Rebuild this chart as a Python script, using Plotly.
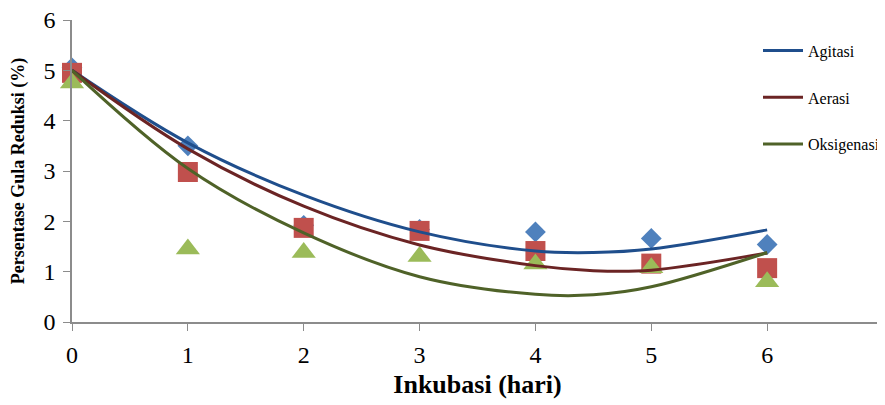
import plotly.graph_objects as go

hari = [0, 1, 2, 3, 4, 5, 6]

# observed values
agitasi = [5.05, 3.50, 1.92, 1.84, 1.79, 1.66, 1.54]
aerasi = [4.95, 2.98, 1.87, 1.81, 1.41, 1.16, 1.07]
oksigenasi = [4.75, 1.45, 1.38, 1.30, 1.15, 1.08, 0.80]

# trendline values
trend_x = [0, 1, 2, 3, 4, 4.5, 5, 6]
trend_agitasi = [5.0, 3.56, 2.52, 1.79, 1.41, 1.38, 1.45, 1.83]
trend_aerasi = [5.0, 3.44, 2.30, 1.53, 1.12, 1.02, 1.03, 1.37]
trend_oksigenasi = [5.0, 3.05, 1.77, 0.90, 0.55, 0.54, 0.70, 1.38]

names = ["Agitasi", "Aerasi", "Oksigenasi"]
marker_colors = ["#4F81BD", "#C0504D", "#9BBB59"]
line_colors = ["#1F4E8C", "#6B2424", "#4F6228"]
symbols = ["diamond", "square", "triangle-up"]
sizes = [16, 20, 21]

fig = go.Figure()
for ys, c, s, sz in zip([agitasi, aerasi, oksigenasi], marker_colors, symbols, sizes):
    fig.add_trace(go.Scatter(x=hari, y=ys, mode="markers",
                             marker=dict(symbol=s, size=sz, color=c, line=dict(width=0)),
                             showlegend=False, hoverinfo="skip", cliponaxis=False))
for ys, n, c in zip([trend_agitasi, trend_aerasi, trend_oksigenasi], names, line_colors):
    fig.add_trace(go.Scatter(x=trend_x, y=ys, mode="lines", name=n,
                             line=dict(color=c, width=3, shape="spline", smoothing=1.0),
                             legendgroup=n))

axis_common = dict(showgrid=False, zeroline=False, showline=True, linecolor="#8C8C8C",
                   linewidth=1.5, ticks="outside", tickcolor="#8C8C8C", ticklen=7,
                   automargin=False, ticklabeloverflow="allow",
                   tickfont=dict(family="Liberation Serif", size=24, color="black"))

# page body has an 8px default margin: shift everything up/left by 8px
fig.update_layout(
    width=877, height=397,
    margin=dict(l=64, r=1, t=12, b=83),
    paper_bgcolor="white", plot_bgcolor="white",
    font=dict(family="Liberation Serif", color="black"),
    xaxis=dict(range=[0, 7], dtick=1, ticklabelstandoff=3,
               title=dict(text="<b>Inkubasi (hari)</b>", font=dict(family="Liberation Serif", size=26), standoff=8),
               **axis_common),
    yaxis=dict(range=[0, 6], dtick=1, ticklabelstandoff=3,
               title=dict(text="<b>Persentase Gula Reduksi (%)</b>", font=dict(family="Liberation Serif", size=18), standoff=14),
               **axis_common),
    legend=dict(x=0.845, y=0.955, xanchor="left", yanchor="top",
                font=dict(family="Liberation Serif", size=16, color="black"),
                tracegroupgap=23, bgcolor="rgba(0,0,0,0)", itemwidth=40),
)

fig.write_html("out.html")
